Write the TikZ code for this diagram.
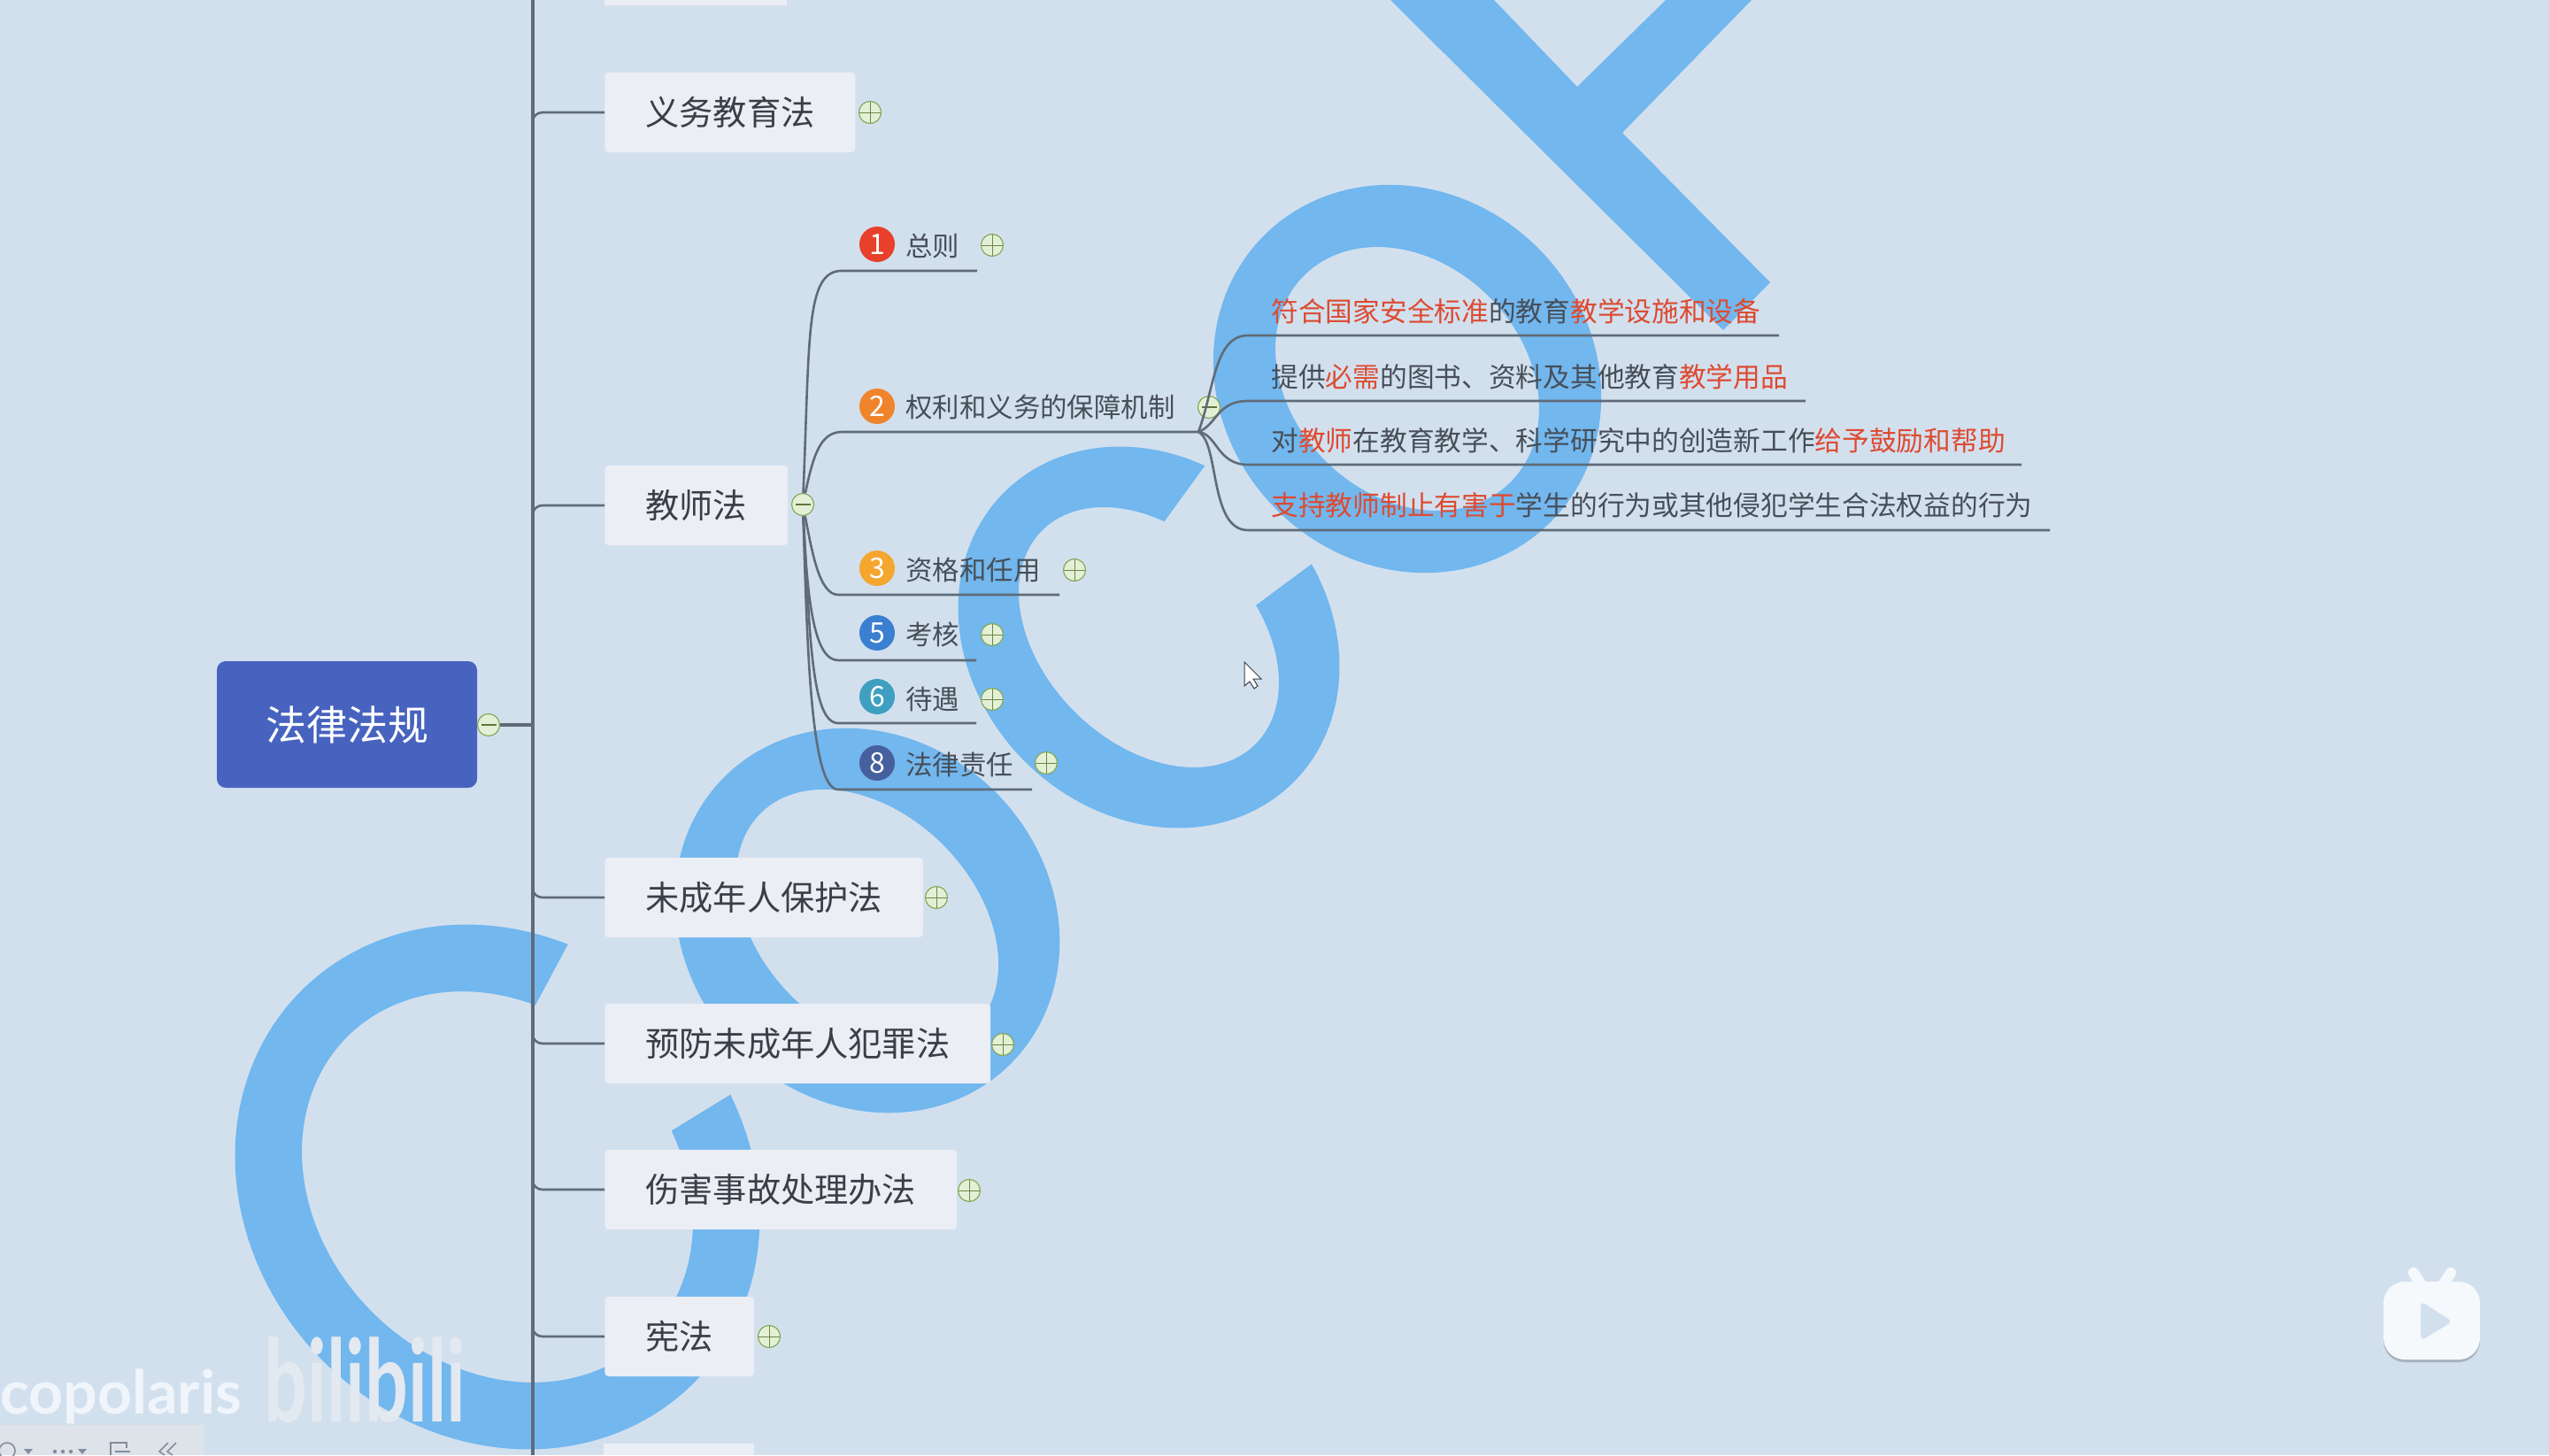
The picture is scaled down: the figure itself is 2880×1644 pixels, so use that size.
\documentclass[tikz,border=0pt]{standalone}
\usepackage{fontspec}
\usetikzlibrary{arrows.meta, positioning}
\setmainfont{Noto Sans CJK SC}
\newfontfamily\capfont{Lato}
\definecolor{bgblue}{HTML}{D2E0EE}
\definecolor{markblue}{HTML}{72B7EE}
\definecolor{boxfill}{HTML}{ECEEF5}
\definecolor{rootblue}{HTML}{4763BF}
\definecolor{inktext}{HTML}{3A3F47}
\definecolor{subink}{HTML}{474E58}
\definecolor{redtext}{HTML}{DE4A30}
\definecolor{linegray}{HTML}{5F6B78}
\definecolor{togline}{HTML}{86A95A}
\definecolor{togfill}{HTML}{E4F0D6}
\definecolor{logowhite}{HTML}{E3E9F0}
\definecolor{ownerwhite}{HTML}{EFF5FB}
\definecolor{barfill}{HTML}{DEE3EA}
\newcommand{\rd}[1]{\textcolor{redtext}{#1}}
\tikzset{
  lawbox/.style={anchor=west, fill=boxfill, rounded corners=2pt, inner xsep=23pt, inner ysep=0pt,
    minimum height=45pt, text=inktext, font=\fontsize{19.1}{19.1}\selectfont},
  subtext/.style={anchor=west, inner sep=0pt, text=subink, font=\fontsize{15.2}{15.2}\selectfont},
  itemtext/.style={subtext, font=\fontsize{15.36}{15.36}\selectfont},
  badge/.style={circle, minimum size=20pt, inner sep=0pt, text=white, font=\fontsize{16}{16}\selectfont},
  togbase/.style={circle, draw=togline, fill=togfill, line width=0.6pt, minimum size=12.5pt, inner sep=0pt},
  togplus/.style={togbase, path picture={
    \draw[togline!80!black, line width=0.5pt] (path picture bounding box.west) -- (path picture bounding box.east);
    \draw[togline!80!black, line width=0.5pt] (path picture bounding box.north) -- (path picture bounding box.south);}},
  togminus/.style={togbase, path picture={
    \draw[togline!70!black, line width=0.7pt] ([xshift=2pt]path picture bounding box.west) -- ([xshift=-2pt]path picture bounding box.east);}},
  bough/.style={draw=linegray, line width=2.4pt},
  twig/.style={draw=linegray, line width=1.3pt},
  barmark/.style={draw=linegray!70!bgblue, line width=0.8pt},
}
\begin{document}
\begin{tikzpicture}[x=0.5pt, y=-0.5pt]
  \useasboundingbox (0,0) rectangle (2880,1644);
  \fill[bgblue] (0,0) rectangle (2880,1644);

  % big letters behind the map
  \fill[markblue] (1571,0) -- (1688,0) -- (1782,98) -- (1882,0) -- (1979,0) -- (1833,150) -- (2000,319) -- (1947,373) -- cycle;
  % closed rings: centre, outer radii, inner radii
  \foreach \cx/\cy/\oa/\ob/\ia/\ib in {1590/428/229/209/165/131, 980/1040/229/205/171/121}
    \fill[markblue, even odd rule]
      plot[domain=0:360, samples=140] ({\cx+(\oa*cos(\x)+\ob*sin(\x))*0.7071},{\cy+(\oa*cos(\x)-\ob*sin(\x))*0.7071}) -- cycle
      plot[domain=0:360, samples=140] ({\cx+(\ia*cos(\x)+\ib*sin(\x))*0.7071},{\cy+(\ia*cos(\x)-\ib*sin(\x))*0.7071}) -- cycle;
  % open rings: the same, and the angles where they stop
  \foreach \cx/\cy/\oa/\ob/\ia/\ib/\ofrom/\oto/\ifrom/\ito in {1298/720/231.4/198.3/170.6/118.8/113.5/432/118/429.4,
      562/1341/313.5/278.4/240/200/116/429/118.6/426.9}
    \fill[markblue]
      plot[domain=\ofrom:\oto, samples=140] ({\cx+(\oa*cos(\x)+\ob*sin(\x))*0.7071},{\cy+(\oa*cos(\x)-\ob*sin(\x))*0.7071})
      -- plot[domain=\ito:\ifrom, samples=140] ({\cx+(\ia*cos(\x)+\ib*sin(\x))*0.7071},{\cy+(\ia*cos(\x)-\ib*sin(\x))*0.7071}) -- cycle;

  % root and spine
  \coordinate (spinetop) at (602,0);
  \coordinate (spinebot) at (602,1644);
  \draw[bough] (spinetop) -- (spinebot);
  \node[fill=rootblue, rounded corners=5pt, minimum width=147pt, minimum height=71.5pt, inner sep=0pt,
    text=white, font=\fontsize{23}{23}\selectfont] (root) at (392,818.5) {法律法规};
  \node[togminus] (roottog) at (552,819) {};
  \draw[bough] (roottog) -- (roottog-|spinetop);

  % law boxes
  \fill[boxfill] (683,0) rectangle (889,6);
  \fill[boxfill] (682,1631) rectangle (852,1644);
  \node[lawbox] (yiwu) at (683,127) {义务教育法};
  \node[lawbox] (jiaoshi) at (683,571) {教师法};
  \node[lawbox] (weicheng) at (683,1014) {未成年人保护法};
  \node[lawbox] (yufang) at (683,1179) {预防未成年人犯罪法};
  \node[lawbox] (shanghai) at (683,1344) {伤害事故处理办法};
  \node[lawbox] (xianfa) at (683,1510) {宪法};
  \foreach \nm in {yiwu, jiaoshi}
    \draw[twig] (\nm.west) -- ++(-70,0) to[out=180, in=90] ++(-11,10);
  \foreach \nm in {weicheng, yufang, shanghai, xianfa}
    \draw[twig] (\nm.west) -- ++(-70,0) to[out=180, in=-90] ++(-11,-10);
  \node[togplus] (yiwutog) at (983,127) {};
  \node[togminus] (jstog) at (907,570) {};
  \node[togplus] (wctog) at (1058,1014) {};
  \node[togplus] (yftog) at (1133,1180) {};
  \node[togplus] (shtog) at (1095,1345) {};
  \node[togplus] (xftog) at (869,1510) {};

  % chapters of the teachers law
  \node[badge, fill={rgb,255:red,232;green,64;blue,42}] (b1) at (991,276) {1};
  \node[badge, fill={rgb,255:red,240;green,132;blue,44}] (b2) at (991,459) {2};
  \node[badge, fill={rgb,255:red,245;green,166;blue,46}] (b3) at (991,642) {3};
  \node[badge, fill={rgb,255:red,59;green,127;blue,208}] (b5) at (991,715) {5};
  \node[badge, fill={rgb,255:red,63;green,159;blue,192}] (b6) at (991,787) {6};
  \node[badge, fill={rgb,255:red,70;green,96;blue,158}] (b8) at (991,862) {8};
  \node[subtext] (zongze) at (1023,278) {总则};
  \node[subtext] (quanli) at (1023,460) {权利和义务的保障机制};
  \node[subtext] (zige) at (1023,644) {资格和任用};
  \node[subtext] (kaohe) at (1023,717) {考核};
  \node[subtext] (daiyu) at (1023,790) {待遇};
  \node[subtext] (zeren) at (1023,864) {法律责任};
  \node[togplus] (zztog) at (1121,277) {};
  \node[togminus] (qltog) at (1366,460) {};
  \node[togplus] (zgtog) at (1214,644) {};
  \node[togplus] (khtog) at (1121,717) {};
  \node[togplus] (dytog) at (1121,790) {};
  \node[togplus] (zrtog) at (1182,862) {};
  \coordinate (zzend) at (1104,306);
  \coordinate (qlend) at (1354,488);
  \coordinate (zgend) at (1197,672);
  \coordinate (khend) at (1103,746);
  \coordinate (dyend) at (1103,817);
  \coordinate (zrend) at (1166,892);
  \draw[twig] (jstog) .. controls (915,380) and (910,306) .. (951,306) -- (zzend);
  \draw[twig] (jstog) .. controls (918,520) and (925,488) .. (951,488) -- (qlend);
  \draw[twig] (jstog) .. controls (917,620) and (925,672) .. (947,672) -- (zgend);
  \draw[twig] (jstog) .. controls (912,680) and (920,746) .. (947,746) -- (khend);
  \draw[twig] (jstog) .. controls (915,720) and (917,817) .. (947,817) -- (dyend);
  \draw[twig] (jstog) .. controls (912,720) and (915,892) .. (947,892) -- (zrend);

  % items of chapter 2
  \node[itemtext] (item1) at (1436,351.5) {\rd{符合国家安全标准}的教育\rd{教学设施和设备}};
  \node[itemtext] (item2) at (1436,425.5) {提供\rd{必需}的图书、资料及其他教育\rd{教学用品}};
  \node[itemtext] (item3) at (1436,498) {对\rd{教师}在教育教学、科学研究中的创造新工作\rd{给予鼓励和帮助}};
  \node[itemtext] (item4) at (1436,571) {\rd{支持教师制止有害于}学生的行为或其他侵犯学生合法权益的行为};
  \coordinate (it1end) at (2010,379);
  \coordinate (it2end) at (2040,453);
  \coordinate (it3end) at (2284,525);
  \coordinate (it4end) at (2316,599);
  \draw[twig] (qlend) .. controls (1372,440) and (1372,379) .. (1410,379) -- (it1end);
  \draw[twig] (qlend) .. controls (1375,480) and (1375,453) .. (1410,453) -- (it2end);
  \draw[twig] (qlend) .. controls (1375,490) and (1375,525) .. (1410,525) -- (it3end);
  \draw[twig] (qlend) .. controls (1378,500) and (1366,599) .. (1410,599) -- (it4end);

  % mouse pointer
  \filldraw[fill=white, draw=inktext, line width=0.5pt] (1406,748) -- (1406,775) -- (1412,770) -- (1417,778)
    -- (1421,775) -- (1416,767) -- (1425,767) -- cycle;

  % video player marks
  \node[anchor=base west, inner sep=0pt, text=ownerwhite, font=\capfont\bfseries\fontsize{34}{34}\selectfont] (owner) at (0,1597) {copolaris};
  \node[anchor=base west, inner sep=0pt, text=logowhite, yscale=1.5, transform shape, font=\capfont\bfseries\fontsize{43}{43}\selectfont] (logo) at (298,1606) {bilibili};

  \fill[barfill] (0,1610) rectangle (230,1644);
  \draw[barmark] (8,1639) circle (9);
  \fill[linegray!70!bgblue] (27,1637) -- (37,1637) -- (32,1643) -- cycle;
  \foreach \dotx in {62,71,80} \fill[linegray!70!bgblue] (\dotx,1640) circle (2.2);
  \fill[linegray!70!bgblue] (88,1637) -- (98,1637) -- (93,1643) -- cycle;
  \draw[barmark] (125,1644) -- (125,1630) -- (143,1630) -- (143,1636);
  \draw[barmark] (130,1640) -- (147,1640);
  \draw[barmark] (190,1630) -- (180,1640) -- (186,1644) (199,1630) -- (189,1640) -- (195,1644);

  \draw[line width=6pt, line cap=round, white!80!bgblue] (2727,1438) -- (2736,1452) (2769,1438) -- (2760,1452);
  \fill[black!20!bgblue, rounded corners=12pt] (2693,1451) rectangle (2802,1539);
  \fill[white!80!bgblue, rounded corners=12pt] (2693,1448) rectangle (2802,1536);
  \fill[bgblue, rounded corners=3pt] (2735,1470) -- (2771,1493) -- (2735,1515) -- cycle;
\end{tikzpicture}
\end{document}
